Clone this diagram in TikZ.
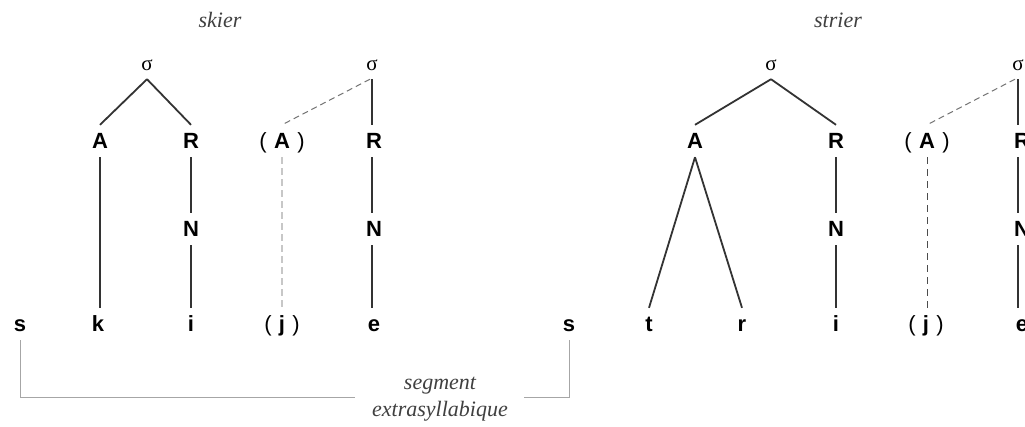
\documentclass[tikz,border=0pt]{standalone}
\usepackage{fontspec}
\setmainfont{Liberation Serif}
\newfontfamily\lsans{Liberation Sans}
\begin{document}
\begin{tikzpicture}[x=1pt,y=-1pt,
  lab/.style={font=\lsans\bfseries\fontsize{22}{22}\selectfont, text height=15pt, text depth=0pt, inner xsep=1pt, inner ysep=8.5pt},
  plab/.style={font=\lsans\fontsize{22}{22}\selectfont, text height=15pt, text depth=0pt, inner xsep=1pt, inner ysep=8.5pt},
  sig/.style={font=\fontsize{21}{21}\selectfont, text height=9pt, text depth=0pt, inner xsep=1pt, inner ysep=8.5pt},
  ttl/.style={font=\itshape\fontsize{22}{27}\selectfont, text=black!75, align=center, inner sep=0pt},
  solid line/.style={draw=black!80, line width=1.8pt},
  dash line/.style={draw=black!55, line width=1pt, dash pattern=on 6pt off 4pt},
  light dash/.style={draw=black!22, line width=2.8pt, dash pattern=on 7pt off 4pt},
  dark dash/.style={draw=black!70, line width=1pt, dash pattern=on 7pt off 5pt},
  bracket/.style={draw=black!35, line width=1pt}]
\useasboundingbox (0,0) rectangle (1025,426);
\clip (0,0) rectangle (1025,426);
\fill[white] (0,0) rectangle (1025,426);

% titles
\node[ttl] (t1) at (220,20) {skier};
\node[ttl] (t2) at (838,20) {strier};

% ---------- left tree (skier) ----------
\node[sig] (s1) at (147,66) {σ};
\node[lab] (A1) at (100,141) {A};
\node[lab] (R1) at (191,141) {R};
\node[lab] (N1) at (191,229) {N};
\node[lab] (k1) at (98,324) {k};
\node[lab] (i1) at (191,324) {i};
\node[lab] (sx1) at (20,324) {s};
\node[plab] (pA1) at (282,141) {(\,\,\textbf{A}\,\,)};
\node[plab] (pj1) at (282,324) {(\,\,\textbf{j}\,\,)};
\node[sig] (s2) at (372,66) {σ};
\node[lab] (R2) at (374,141) {R};
\node[lab] (N2) at (374,229) {N};
\node[lab] (e2) at (374,324) {e};

\draw[solid line] (s1.south) -- (A1.north);
\draw[solid line] (s1.south) -- (R1.north);
\draw[solid line] (A1.south) -- (A1.south |- k1.north);
\draw[solid line] (R1.south) -- (N1.north);
\draw[solid line] (N1.south) -- (i1.north);
\draw[solid line] (s2.south) -- (s2.south |- R2.north);
\draw[solid line] ([xshift=-2pt]R2.south) -- ([xshift=-2pt]N2.north);
\draw[solid line] ([xshift=-2pt]N2.south) -- ([xshift=-2pt]e2.north);
\draw[dash line] ([xshift=-2pt]s2.south) -- (pA1.north);
\draw[light dash] (pA1.south) -- ([yshift=-3pt]pj1.north);

% ---------- right tree (strier) ----------
\node[sig] (s3) at (771,66) {σ};
\node[lab] (A3) at (695,141) {A};
\node[lab] (R3) at (836,141) {R};
\node[lab] (N3) at (836,229) {N};
\node[lab] (t3) at (649,324) {t};
\node[lab] (r3) at (742,324) {r};
\node[lab] (i3) at (836,324) {i};
\node[lab] (sx3) at (569,324) {s};
\node[plab] (pA3) at (927,141) {(\,\,\textbf{A}\,\,)};
\node[plab] (pj3) at (926,324) {(\,\,\textbf{j}\,\,)};
\node[sig] (s4) at (1018,66) {σ};
\node[lab] (R4) at (1022,141) {R};
\node[lab] (N4) at (1022,229) {N};
\node[lab] (e4) at (1022,324) {e};

\draw[solid line] (s3.south) -- (A3.north);
\draw[solid line] (s3.south) -- (R3.north);
\draw[solid line] (A3.south) -- (t3.north);
\draw[solid line] (A3.south) -- (r3.north);
\draw[solid line] (R3.south) -- (N3.north);
\draw[solid line] (N3.south) -- (i3.north);
\draw[solid line] (s4.south) -- (s4.south |- R4.north);
\draw[solid line] ([xshift=-4pt]R4.south) -- ([xshift=-4pt]N4.north);
\draw[solid line] ([xshift=-4pt]N4.south) -- ([xshift=-4pt]e4.north);
\draw[dash line] ([xshift=-3pt]s4.south) -- (pA3.north);
\draw[dark dash] (pA3.south) -- ([yshift=-3pt]pA3.south |- pj3.north);

% ---------- extrasyllabic segment ----------
\node[ttl] (seg) at (440,399) {segment\\extrasyllabique};
\coordinate (b1) at (20,397);
\coordinate (b2) at (355,397);
\coordinate (b3) at (524,397);
\coordinate (b4) at (569,397);
\draw[bracket] (sx1.south) -- (b1) -- (b2);
\draw[bracket] (b3) -- (b4) -- (sx3.south);
\end{tikzpicture}
\end{document}
